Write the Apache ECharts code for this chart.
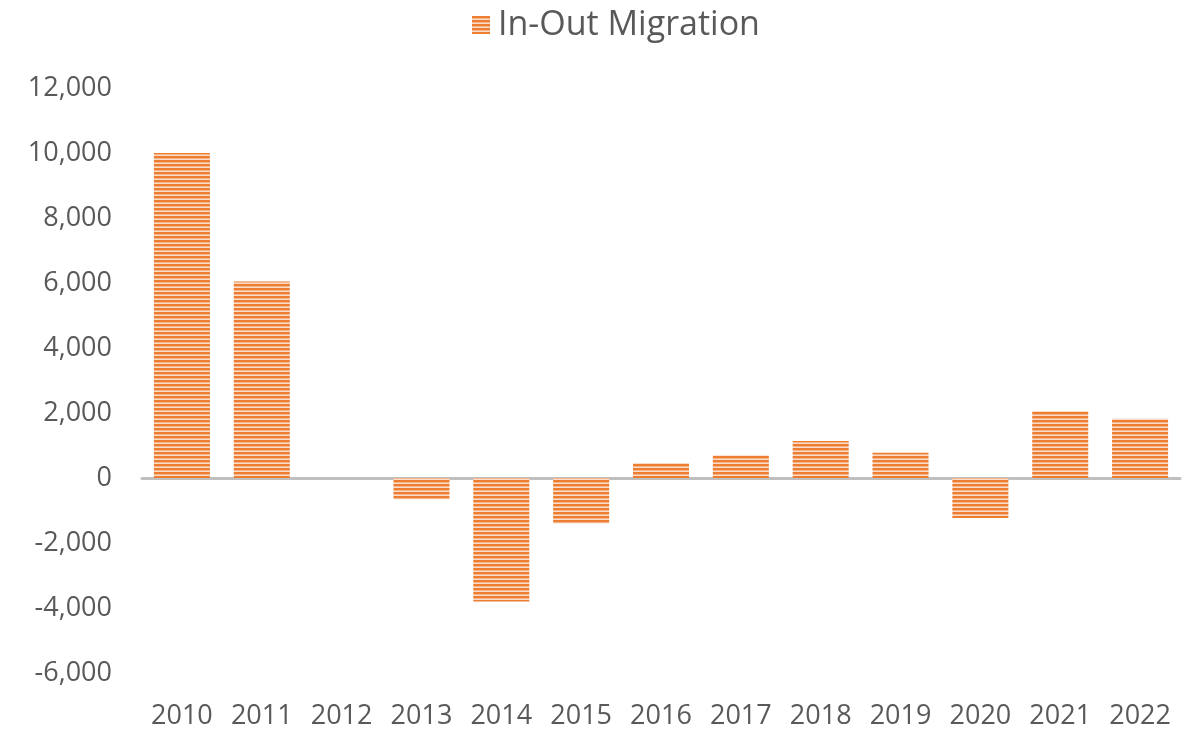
<!DOCTYPE html>
<html>
<head>
<meta charset="utf-8">
<script src="https://cdn.jsdelivr.net/npm/echarts@6/dist/echarts.min.js"></script>
<style>
  html, body { margin: 0; padding: 0; background: #ffffff; }
  #main { width: 1201px; height: 730px; }
</style>
</head>
<body>
<div id="main"></div>
<script>
var years = ["2010", "2011", "2012", "2013", "2014", "2015", "2016", "2017", "2018", "2019", "2020", "2021", "2022"];
var migration = [10000, 6050, 0, -650, -3800, -1400, 460, 700, 1140, 780, -1230, 2060, 1820];
var seriesName = "In-Out Migration";

// striped fill like the original chart
function stripes() {
  var c = document.createElement("canvas");
  c.width = 4;
  c.height = 4;
  var ctx = c.getContext("2d");
  ctx.fillStyle = "#ED7D31";
  ctx.fillRect(0, 0, 4, 2);
  ctx.fillStyle = "#F5B48A";
  ctx.fillRect(0, 2, 4, 1);
  ctx.fillStyle = "#FADCC8";
  ctx.fillRect(0, 3, 4, 1);
  return c;
}

var chart = echarts.init(document.getElementById("main"));
var fill = { image: stripes(), repeat: "repeat" };

var option = {
  backgroundColor: "#ffffff",
  textStyle: { fontFamily: "Open Sans" },
  legend: {
    data: [{ name: seriesName, icon: "rect" }],
    top: 3,
    left: 467,
    itemWidth: 18,
    itemHeight: 18,
    itemGap: 10,
    textStyle: { fontSize: 34, color: "#595959", fontFamily: "Open Sans", padding: [0, 0, 0, 3] }
  },
  grid: { left: 142, right: 21, top: 88, bottom: 57 },
  xAxis: [
    {
      type: "category",
      data: years,
      position: "bottom",
      axisLine: { show: false, onZero: false },
      axisTick: { show: false },
      axisLabel: { fontSize: 27, color: "#595959", margin: 30, interval: 0 }
    },
    {
      type: "category",
      data: years,
      position: "bottom",
      axisLine: { show: true, onZero: true, lineStyle: { color: "#BFBFBF", width: 3 } },
      axisTick: { show: false },
      axisLabel: { show: false }
    }
  ],
  yAxis: {
    type: "value",
    min: -6000,
    max: 12000,
    interval: 2000,
    splitLine: { show: false },
    axisLine: { show: false },
    axisTick: { show: false },
    axisLabel: {
      fontSize: 27,
      color: "#595959",
      margin: 30,
      formatter: function (v) { return v.toLocaleString("en-US"); }
    }
  },
  series: [
    {
      name: seriesName,
      type: "bar",
      data: migration,
      barWidth: 56,
      itemStyle: { color: fill, borderWidth: 0 }
    }
  ]
};

chart.setOption(option);
</script>
</body>
</html>
